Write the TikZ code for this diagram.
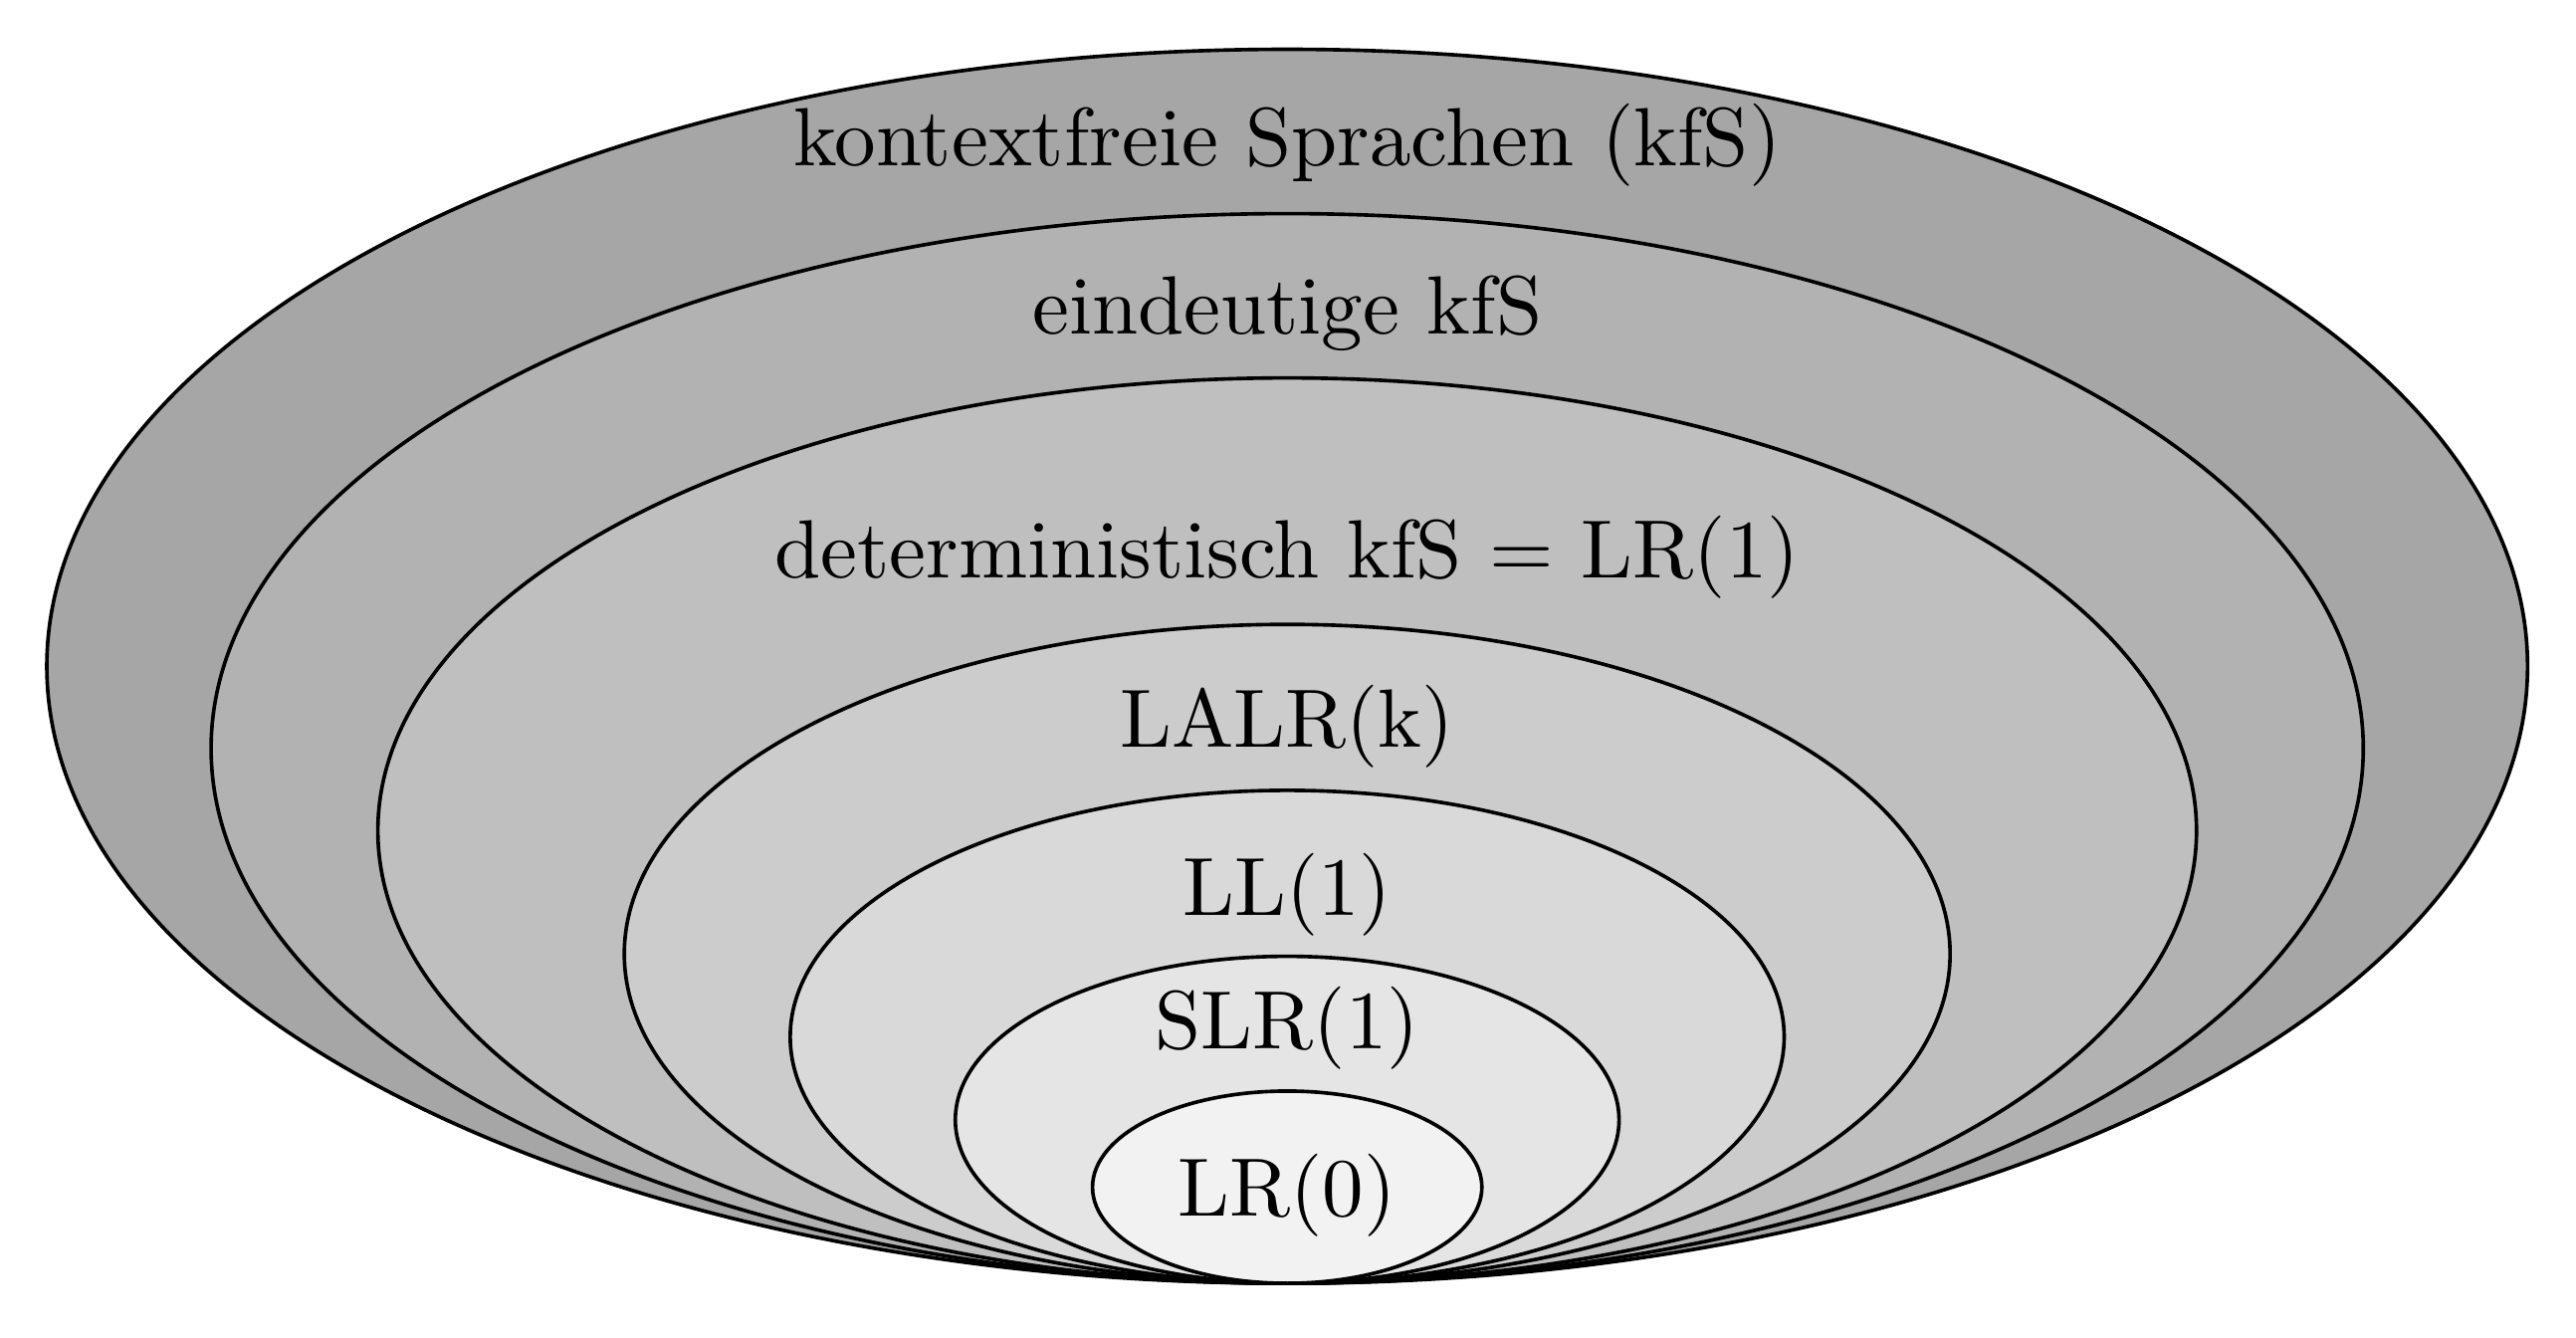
\documentclass[tikz,border=0pt]{standalone}
\begin{document}
\begin{tikzpicture}[x=1pt,y=-1pt,
  ring/.style={draw=black,line width=2.2pt},
  lbl/.style={anchor=base,inner sep=0pt,font=\fontsize{10}{12}\selectfont,scale=5.03,transform shape}]
\useasboundingbox (0,0) rectangle (1568,814);
\fill[white] (0,0) rectangle (1568,814);
\filldraw[ring,fill=black!35] (783.5,405.5) ellipse [x radius=755, y radius=375.5];
\filldraw[ring,fill=black!30] (783.5,455.5) ellipse [x radius=655, y radius=325.5];
\filldraw[ring,fill=black!25] (783.5,505.5) ellipse [x radius=553.5, y radius=275.5];
\filldraw[ring,fill=black!20] (783.5,580.5) ellipse [x radius=403.5, y radius=200.5];
\filldraw[ring,fill=black!15] (783.5,631) ellipse [x radius=302.5, y radius=150];
\filldraw[ring,fill=black!10] (783.5,681.5) ellipse [x radius=202, y radius=99.5];
\filldraw[ring,fill=black!5] (783.5,722.5) ellipse [x radius=118.5, y radius=58.5];
\node[lbl] (kfs) at (783.5,101) {kontextfreie Sprachen (kfS)};
\node[lbl] (ekfs) at (783.5,203) {eindeutige kfS};
\node[lbl] (dkfs) at (783.5,352) {deterministisch kfS = LR(1)};
\node[lbl] (lalr) at (783.5,455) {LALR(k)};
\node[lbl] (ll) at (783.5,557) {LL(1)};
\node[lbl] (slr) at (783.5,638) {SLR(1)};
\node[lbl] (lr) at (783.5,740) {LR(0)};
\end{tikzpicture}
\end{document}
